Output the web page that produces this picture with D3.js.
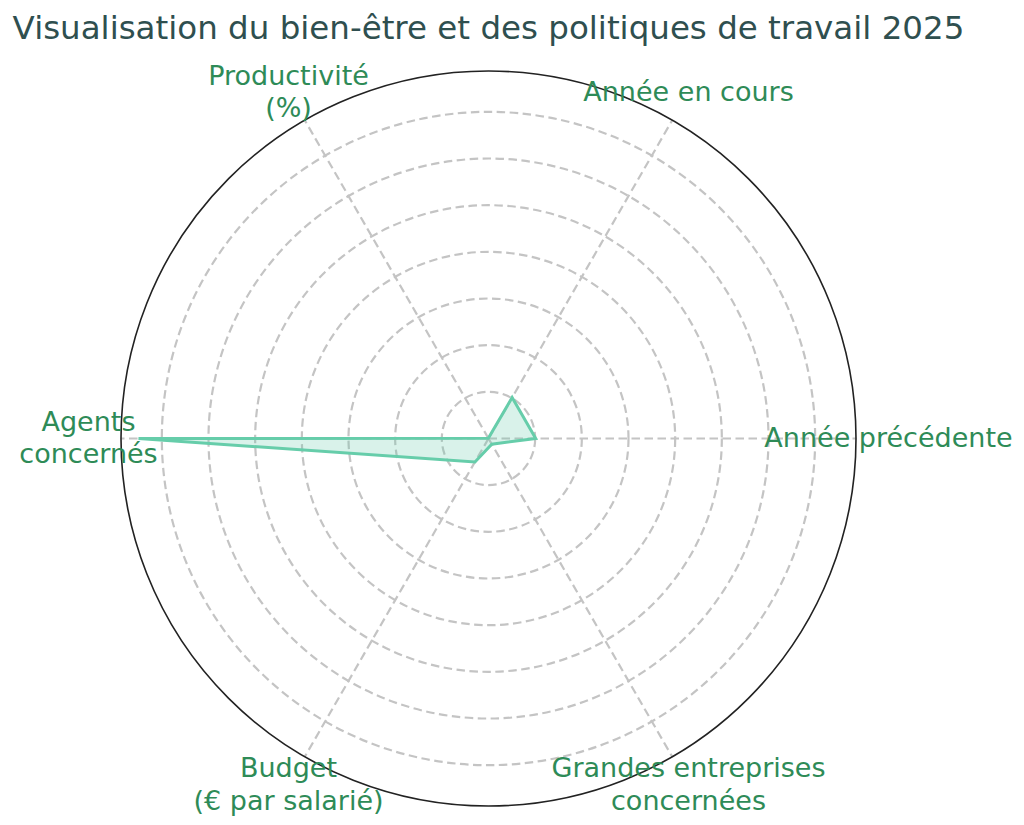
<!DOCTYPE html>
<html lang="fr">
<head>
<meta charset="utf-8">
<script src="https://cdn.jsdelivr.net/npm/d3@7"></script>
<style>
  body { margin: 0; background: #fff; }
  svg { display: block; font-family: "DejaVu Sans", sans-serif; }
</style>
</head>
<body>
<div id="visualization"></div>
<script>
// データ
const categories = [
  ["Année précédente"],
  ["Année en cours"],
  ["Productivité", "(%)"],
  ["Agents", "concernés"],
  ["Budget", "(€ par salarié)"],
  ["Grandes entreprises", "concernées"]
];
const values = [2024, 2025, 15, 15000, 1160, 280];
const titleText = "Visualisation du bien-être et des politiques de travail 2025";

// SVGの設定
const width = 1024;
const height = 825;
const cx = 488.5, cy = 438.5;
const radius = 367.5;
const labelRadius = 400;
const fontSize = 27;

const svg = d3.select("#visualization")
  .append("svg")
  .attr("width", width)
  .attr("height", height);

// 半径スケール（上限はデータ最大値の5%増し）
const rMax = d3.max(values) * 1.05;
const rScale = d3.scaleLinear()
  .domain([0, rMax])
  .range([0, radius]);

// 角度（右から反時計回り）
const angle = i => i * 2 * Math.PI / categories.length;

const g = svg.append("g")
  .attr("transform", `translate(${cx},${cy})`);

// 同心円グリッド
g.selectAll(".ring")
  .data(rScale.ticks(8).filter(d => d > 0 && d < rMax))
  .enter()
  .append("circle")
  .attr("class", "ring")
  .attr("r", d => rScale(d))
  .attr("fill", "none")
  .attr("stroke", "#c4c4c4")
  .attr("stroke-width", 2.2)
  .attr("stroke-dasharray", "8.5,4.5");

// 放射状のグリッド線
g.selectAll(".spoke")
  .data(categories)
  .enter()
  .append("line")
  .attr("class", "spoke")
  .attr("x1", 0)
  .attr("y1", 0)
  .attr("x2", (d, i) => radius * Math.cos(angle(i)))
  .attr("y2", (d, i) => -radius * Math.sin(angle(i)))
  .attr("stroke", "#c4c4c4")
  .attr("stroke-width", 2.2)
  .attr("stroke-dasharray", "8.5,4.5");

// データのポリゴン
const radar = d3.lineRadial()
  .angle((d, i) => Math.PI / 2 - angle(i))
  .radius(d => rScale(d))
  .curve(d3.curveLinearClosed);

g.append("path")
  .datum(values)
  .attr("d", radar)
  .attr("fill", "#66cdaa")
  .attr("fill-opacity", 0.25)
  .attr("stroke", "#66cdaa")
  .attr("stroke-width", 3)
  .attr("stroke-linejoin", "miter");

// 外枠
g.append("circle")
  .attr("r", radius)
  .attr("fill", "none")
  .attr("stroke", "#222")
  .attr("stroke-width", 1.6);

// 軸ラベル
const labels = g.selectAll(".label")
  .data(categories)
  .enter()
  .append("text")
  .attr("class", "label")
  .attr("text-anchor", "middle")
  .style("font-size", fontSize + "px")
  .style("fill", "#2e8b57");

labels.each(function(d, i) {
  const x = labelRadius * Math.cos(angle(i));
  const y = -labelRadius * Math.sin(angle(i));
  const lh = fontSize * 1.2;
  d3.select(this).selectAll("tspan")
    .data(d)
    .enter()
    .append("tspan")
    .attr("x", x)
    .attr("y", (t, j) => y + (j - (d.length - 1) / 2) * lh + fontSize * 0.32)
    .text(t => t);
});

// タイトル
svg.append("text")
  .attr("x", cx)
  .attr("y", 38.5)
  .attr("text-anchor", "middle")
  .style("font-size", "32.5px")
  .style("fill", "#2f4f4f")
  .text(titleText);
</script>
</body>
</html>
